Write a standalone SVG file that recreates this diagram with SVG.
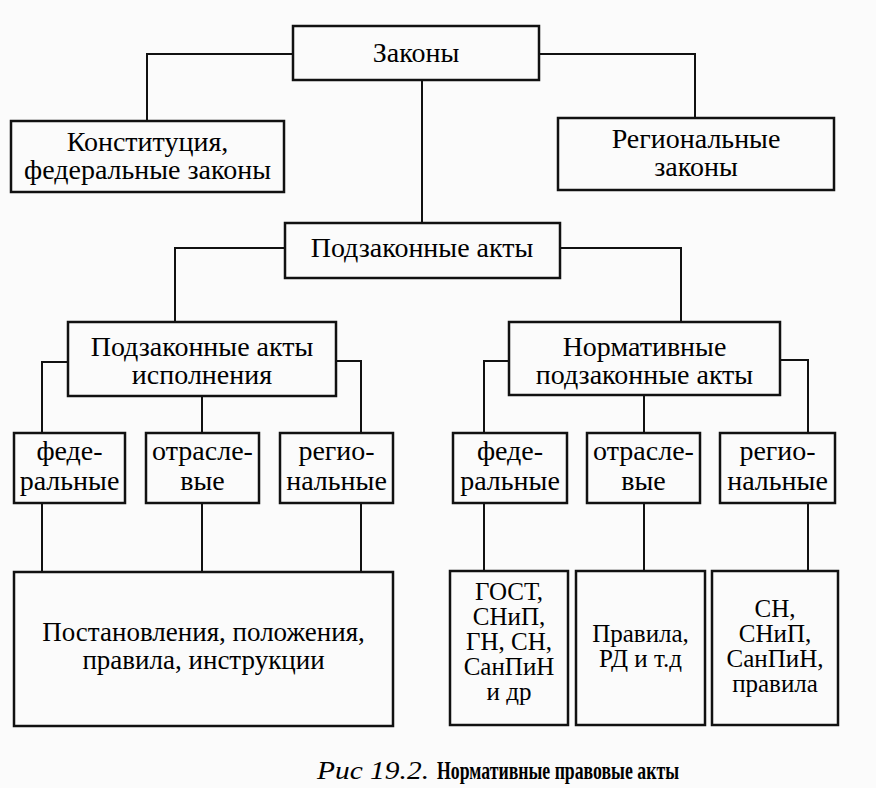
<svg xmlns="http://www.w3.org/2000/svg" width="876" height="788" viewBox="0 0 876 788">
<style>
.b{fill:none;stroke:#111;stroke-width:2.5}
.c{fill:none;stroke:#111;stroke-width:2}
</style>
<rect width="876" height="788" fill="#fbfbfb"/>
<g id="connectors">
<path class="c" d="M293 54H147V121"/>
<path class="c" d="M539 54H695V118"/>
<path class="c" d="M422 80V223"/>
<path class="c" d="M285 248H175V322"/>
<path class="c" d="M560 248H681V322"/>
<path class="c" d="M68 362H42V433"/>
<path class="c" d="M202 396V433"/>
<path class="c" d="M336 361H361V433"/>
<path class="c" d="M509 361H484V433"/>
<path class="c" d="M644 395V433"/>
<path class="c" d="M780 360H808V433"/>
<path class="c" d="M42 503V572M202 503V572M361 503V572"/>
<path class="c" d="M484 503V571M644 503V571M808 503V571"/>
</g>
<g id="zakony"><rect class="b" x="293" y="26" width="246" height="54"/><text font-family="Liberation Serif" font-size="28" text-anchor="middle" x="416" y="62">Законы</text></g>
<g id="konstituciya"><rect class="b" x="11" y="121" width="273" height="71"/><text font-family="Liberation Serif" font-size="28" text-anchor="middle" x="147.5" y="151">Конституция,</text><text font-family="Liberation Serif" font-size="28" text-anchor="middle" x="147.5" y="179">федеральные законы</text></g>
<g id="regionalnye-zakony"><rect class="b" x="558" y="118" width="276" height="72"/><text font-family="Liberation Serif" font-size="28" text-anchor="middle" x="696" y="148">Региональные</text><text font-family="Liberation Serif" font-size="28" text-anchor="middle" x="696" y="176">законы</text></g>
<g id="podzakonnye"><rect class="b" x="285" y="223" width="275" height="55"/><text font-family="Liberation Serif" font-size="28" text-anchor="middle" x="422" y="257">Подзаконные акты</text></g>
<g id="ispolneniya"><rect class="b" x="68" y="322" width="268" height="74"/><text font-family="Liberation Serif" font-size="28" text-anchor="middle" x="202" y="356">Подзаконные акты</text><text font-family="Liberation Serif" font-size="28" text-anchor="middle" x="202" y="384">исполнения</text></g>
<g id="normativnye"><rect class="b" x="509" y="322" width="271" height="73"/><text font-family="Liberation Serif" font-size="28" text-anchor="middle" x="644.5" y="356">Нормативные</text><text font-family="Liberation Serif" font-size="28" text-anchor="middle" x="644.5" y="384">подзаконные акты</text></g>
<g id="isp-fed"><rect class="b" x="14" y="433" width="111" height="70"/><text font-family="Liberation Serif" font-size="28" text-anchor="middle" x="69.5" y="460">феде-</text><text font-family="Liberation Serif" font-size="28" text-anchor="middle" x="69.5" y="490">ральные</text></g>
<g id="isp-otr"><rect class="b" x="146" y="433" width="113" height="70"/><text font-family="Liberation Serif" font-size="28" text-anchor="middle" x="202.5" y="460">отрасле-</text><text font-family="Liberation Serif" font-size="28" text-anchor="middle" x="202.5" y="490">вые</text></g>
<g id="isp-reg"><rect class="b" x="280" y="433" width="113" height="70"/><text font-family="Liberation Serif" font-size="28" text-anchor="middle" x="336.5" y="460">регио-</text><text font-family="Liberation Serif" font-size="28" text-anchor="middle" x="336.5" y="490">нальные</text></g>
<g id="norm-fed"><rect class="b" x="453" y="433" width="114" height="70"/><text font-family="Liberation Serif" font-size="28" text-anchor="middle" x="510" y="460">феде-</text><text font-family="Liberation Serif" font-size="28" text-anchor="middle" x="510" y="490">ральные</text></g>
<g id="norm-otr"><rect class="b" x="587" y="433" width="113" height="70"/><text font-family="Liberation Serif" font-size="28" text-anchor="middle" x="643.5" y="460">отрасле-</text><text font-family="Liberation Serif" font-size="28" text-anchor="middle" x="643.5" y="490">вые</text></g>
<g id="norm-reg"><rect class="b" x="720" y="433" width="115" height="70"/><text font-family="Liberation Serif" font-size="28" text-anchor="middle" x="777.5" y="460">регио-</text><text font-family="Liberation Serif" font-size="28" text-anchor="middle" x="777.5" y="490">нальные</text></g>
<g id="postanovleniya"><rect class="b" x="14" y="572" width="379" height="154"/><text font-family="Liberation Serif" font-size="27" text-anchor="middle" x="203.5" y="641">Постановления, положения,</text><text font-family="Liberation Serif" font-size="27" text-anchor="middle" x="203.5" y="669">правила, инструкции</text></g>
<g id="gost"><rect class="b" x="450" y="571" width="118" height="154"/><text font-family="Liberation Serif" font-size="25" text-anchor="middle" x="509" y="600">ГОСТ,</text><text font-family="Liberation Serif" font-size="25" text-anchor="middle" x="509" y="625">СНиП,</text><text font-family="Liberation Serif" font-size="25" text-anchor="middle" x="509" y="650">ГН, СН,</text><text font-family="Liberation Serif" font-size="25" text-anchor="middle" x="509" y="675">СанПиН</text><text font-family="Liberation Serif" font-size="25" text-anchor="middle" x="509" y="700">и др</text></g>
<g id="pravila"><rect class="b" x="576" y="571" width="129" height="154"/><text font-family="Liberation Serif" font-size="25" text-anchor="middle" x="640.5" y="642">Правила,</text><text font-family="Liberation Serif" font-size="25" text-anchor="middle" x="640.5" y="667">РД и т.д</text></g>
<g id="sn"><rect class="b" x="712" y="571" width="126" height="154"/><text font-family="Liberation Serif" font-size="25" text-anchor="middle" x="775" y="617">СН,</text><text font-family="Liberation Serif" font-size="25" text-anchor="middle" x="775" y="642">СНиП,</text><text font-family="Liberation Serif" font-size="25" text-anchor="middle" x="775" y="667">СанПиН,</text><text font-family="Liberation Serif" font-size="25" text-anchor="middle" x="775" y="692">правила</text></g>
<text font-family="Liberation Serif" font-size="25" font-style="italic" x="317" y="779" textLength="112" lengthAdjust="spacingAndGlyphs">Рис 19.2.</text>
<text font-family="Liberation Serif" font-size="25" font-weight="bold" x="437" y="779" textLength="242" lengthAdjust="spacingAndGlyphs">Нормативные правовые акты</text>
</svg>
